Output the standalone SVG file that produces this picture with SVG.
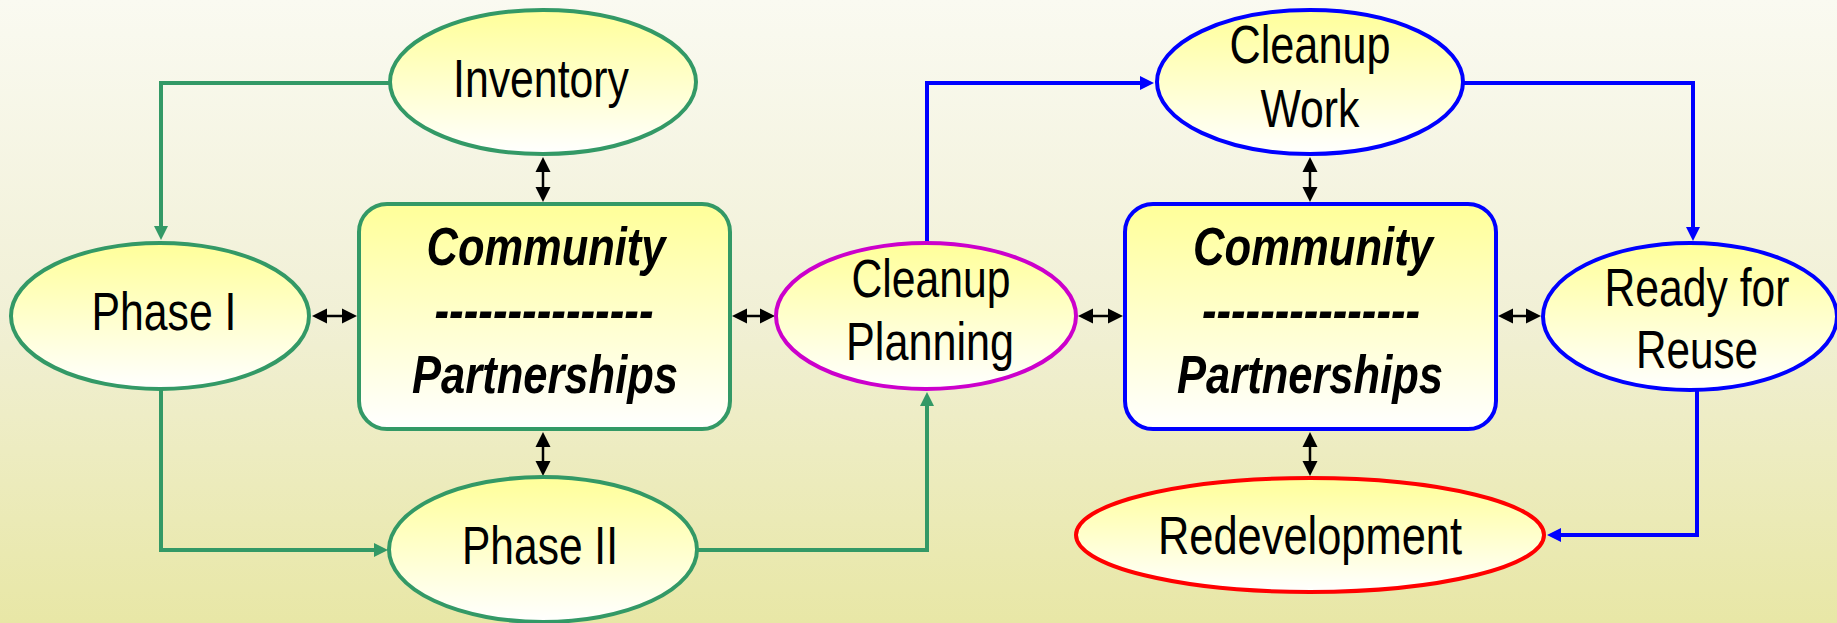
<svg xmlns="http://www.w3.org/2000/svg" width="1837" height="623" viewBox="0 0 1837 623">
<defs>
<linearGradient id="bg" x1="0" y1="0" x2="0" y2="1">
<stop offset="0" stop-color="#fafaf1"/>
<stop offset="0.5" stop-color="#f1f0d6"/>
<stop offset="1" stop-color="#e8e7a6"/>
</linearGradient>
<linearGradient id="fill" x1="0" y1="0" x2="0" y2="1">
<stop offset="0" stop-color="#ffff99"/>
<stop offset="1" stop-color="#ffffff"/>
</linearGradient>
<marker id="dbl" markerUnits="userSpaceOnUse" markerWidth="18" markerHeight="18" viewBox="0 -9 18 18" refX="0" refY="0" orient="auto-start-reverse">
<path d="M0,-7.5 L15,0 L0,7.5 z" fill="#000"/>
</marker>
<marker id="ag" markerUnits="userSpaceOnUse" markerWidth="16" markerHeight="16" viewBox="0 -8 16 16" refX="1" refY="0" orient="auto">
<path d="M0,-7 L14,0 L0,7 z" fill="#339966"/>
</marker>
<marker id="ab" markerUnits="userSpaceOnUse" markerWidth="16" markerHeight="16" viewBox="0 -8 16 16" refX="1" refY="0" orient="auto">
<path d="M0,-7 L14,0 L0,7 z" fill="#0000ff"/>
</marker>
<style>
.n{fill:url(#fill);stroke-width:4}
.g{stroke:#339966}
.b{stroke:#0000ff}
.m{stroke:#cc00cc}
.r{stroke:#ff0000}
.t{font-family:"Liberation Sans",Arial,sans-serif;font-size:53px;fill:#000;text-anchor:middle}
.bi{font-weight:bold;font-style:italic}
.cg{fill:none;stroke:#339966;stroke-width:4;marker-end:url(#ag)}
.cb{fill:none;stroke:#0000ff;stroke-width:4;marker-end:url(#ab)}
.d{stroke:#000;stroke-width:2.5;marker-start:url(#dbl);marker-end:url(#dbl)}
</style>
</defs>
<rect x="0" y="0" width="1837" height="623" fill="url(#bg)"/>
<g id="connectors">
<path class="cg" d="M390,83 H161 V227"/>
<path class="cg" d="M161,389 V550 H375"/>
<path class="cg" d="M697,550 H927 V405"/>
<path class="cb" d="M927,243 V83 H1141"/>
<path class="cb" d="M1463,83 H1693 V228"/>
<path class="cb" d="M1697,390 V535 H1560"/>
<line class="d" x1="543" y1="172" x2="543" y2="187"/>
<line class="d" x1="543" y1="447" x2="543" y2="461"/>
<line class="d" x1="327" y1="316" x2="342" y2="316"/>
<line class="d" x1="747" y1="316" x2="760" y2="316"/>
<line class="d" x1="1093" y1="316" x2="1108" y2="316"/>
<line class="d" x1="1513" y1="316" x2="1526" y2="316"/>
<line class="d" x1="1310" y1="172" x2="1310" y2="187"/>
<line class="d" x1="1310" y1="447" x2="1310" y2="461"/>
</g>
<g id="inventory">
<ellipse class="n g" cx="543" cy="82" rx="153" ry="72"/>
<text class="t" x="541" y="97" textLength="176" lengthAdjust="spacingAndGlyphs">Inventory</text>
</g>
<g id="phase1">
<ellipse class="n g" cx="160" cy="316" rx="149" ry="73"/>
<text class="t" x="164" y="330" textLength="145" lengthAdjust="spacingAndGlyphs">Phase I</text>
</g>
<g id="community1">
<rect class="n g" x="359" y="204" width="371" height="225" rx="28"/>
<text class="t bi" x="546" y="265" textLength="239" lengthAdjust="spacingAndGlyphs">Community</text>
<text class="t bi" x="544" y="329" textLength="219" lengthAdjust="spacingAndGlyphs">---------------</text>
<text class="t bi" x="545" y="393" textLength="266" lengthAdjust="spacingAndGlyphs">Partnerships</text>
</g>
<g id="phase2">
<ellipse class="n g" cx="543" cy="549.5" rx="154" ry="72.5"/>
<text class="t" x="540" y="564" textLength="156" lengthAdjust="spacingAndGlyphs">Phase II</text>
</g>
<g id="cleanup-planning">
<ellipse class="n m" cx="926" cy="316" rx="150" ry="73"/>
<text class="t" x="931" y="297" textLength="159" lengthAdjust="spacingAndGlyphs">Cleanup</text>
<text class="t" x="930" y="360" textLength="168" lengthAdjust="spacingAndGlyphs">Planning</text>
</g>
<g id="cleanup-work">
<ellipse class="n b" cx="1310" cy="82" rx="153" ry="72"/>
<text class="t" x="1310" y="63" textLength="161" lengthAdjust="spacingAndGlyphs">Cleanup</text>
<text class="t" x="1310" y="127" textLength="99" lengthAdjust="spacingAndGlyphs">Work</text>
</g>
<g id="community2">
<rect class="n b" x="1125" y="204" width="371" height="225" rx="28"/>
<text class="t bi" x="1313" y="265" textLength="240" lengthAdjust="spacingAndGlyphs">Community</text>
<text class="t bi" x="1311" y="329" textLength="218" lengthAdjust="spacingAndGlyphs">---------------</text>
<text class="t bi" x="1310" y="393" textLength="266" lengthAdjust="spacingAndGlyphs">Partnerships</text>
</g>
<g id="ready-for-reuse">
<ellipse class="n b" cx="1690" cy="316.5" rx="147" ry="73.5"/>
<text class="t" x="1697" y="306" textLength="185" lengthAdjust="spacingAndGlyphs">Ready for</text>
<text class="t" x="1697" y="368" textLength="122" lengthAdjust="spacingAndGlyphs">Reuse</text>
</g>
<g id="redevelopment">
<ellipse class="n r" cx="1310" cy="535" rx="234" ry="57"/>
<text class="t" x="1310" y="554" textLength="304" lengthAdjust="spacingAndGlyphs">Redevelopment</text>
</g>
</svg>
